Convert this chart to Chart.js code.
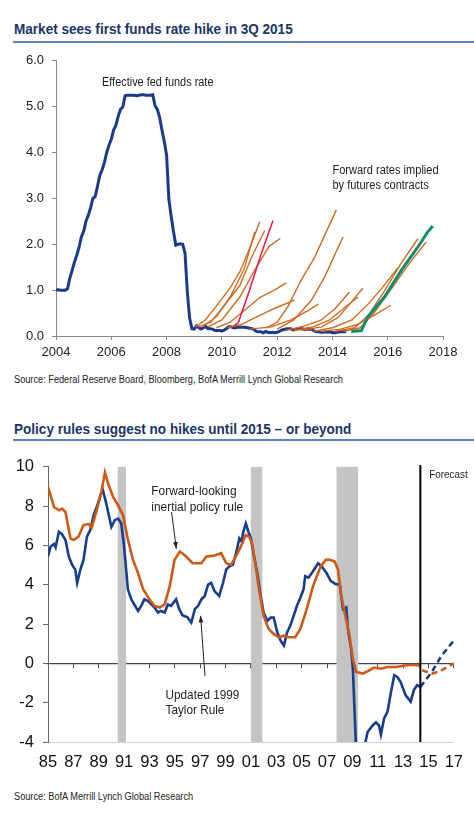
<!DOCTYPE html>
<html>
<head>
<meta charset="utf-8">
<script src="https://cdn.jsdelivr.net/npm/chart.js@4.4.1/dist/chart.umd.min.js"></script>
<style>
body{margin:0;background:#fff;width:474px;height:817px;position:relative;overflow:hidden;font-family:'Liberation Sans',Arial,sans-serif}
.t{position:absolute;left:14px;font-weight:bold;font-size:14px;line-height:16px;color:#1b3466;white-space:nowrap;transform:scaleX(0.968);transform-origin:0 0}
.rule{position:absolute;left:13px;width:461px;height:2px;background:#5f82bb}
.src{position:absolute;left:14px;font-size:10px;line-height:12px;color:#222;white-space:nowrap;transform:scaleX(0.92);transform-origin:0 0}
canvas{position:absolute;left:0}
</style>
</head>
<body>
<div class="t" style="top:21px">Market sees first funds rate hike in 3Q 2015</div>
<div class="rule" style="top:41px"></div>
<canvas id="c1" width="474" height="325" style="top:45px"></canvas>
<div class="src" style="top:374px">Source: Federal Reserve Board, Bloomberg, BofA Merrill Lynch Global Research</div>
<div class="t" style="top:421px">Policy rules suggest no hikes until 2015 – or beyond</div>
<div class="rule" style="top:439px"></div>
<canvas id="c2" width="474" height="335" style="top:448px"></canvas>
<div class="src" style="top:791px">Source: BofA Merrill Lynch Global Research</div>
<script>
const FONT = "'Liberation Sans',Arial,sans-serif";

// ---- chart 1: effective fed funds rate, monthly from Jan 2004
const fedStart = 2004;
const fedFunds = [
  1.00,1.01,1.00,1.00,1.00,1.03,1.26,1.43,1.61,1.76,1.93,2.16,
  2.28,2.50,2.63,2.79,3.00,3.04,3.26,3.50,3.62,3.78,4.00,4.16,
  4.29,4.49,4.59,4.79,4.94,4.99,5.24,5.25,5.25,5.25,5.25,5.24,
  5.25,5.26,5.26,5.25,5.25,5.25,5.26,5.02,4.94,4.76,4.49,4.24,
  3.94,2.98,2.61,2.28,1.98,2.00,2.01,2.00,1.81,0.97,0.39,0.16,
  0.15,0.22,0.18,0.15,0.18,0.21,0.16,0.16,0.15,0.12,0.12,0.12,
  0.11,0.13,0.16,0.20,0.20,0.18,0.18,0.19,0.19,0.19,0.19,0.18,
  0.17,0.16,0.14,0.10,0.09,0.09,0.07,0.10,0.08,0.07,0.08,0.07,
  0.08,0.10,0.13,0.14,0.16,0.16,0.16,0.13,0.14,0.16,0.16,0.16,
  0.14,0.15,0.14,0.15,0.11,0.09,0.09,0.08,0.08,0.09,0.08,0.09,
  0.07,0.07,0.08,0.09,0.09,0.10,0.09
];

// forward curves implied by futures, [year, rate]
const fwdCurves = [
  [[2009.05,0.2],[2009.4,0.35],[2009.8,0.65],[2010.3,1.05],[2010.65,1.4],[2011.0,1.9],[2011.37,2.49]],
  [[2009.15,0.2],[2009.6,0.3],[2010.0,0.6],[2010.65,1.1],[2011.1,1.75],[2011.55,2.3]],
  [[2009.3,0.2],[2009.8,0.42],[2010.3,0.85],[2010.8,1.45],[2011.19,2.27]],
  [[2009.5,0.2],[2010.0,0.35],[2010.65,0.85],[2011.2,1.45],[2011.7,1.95],[2012.12,2.13]],
  [[2009.8,0.18],[2010.3,0.3],[2010.8,0.55],[2011.4,0.85],[2011.9,1.0],[2012.33,1.16]],
  [[2010.2,0.18],[2010.7,0.25],[2011.2,0.4],[2011.9,0.6],[2012.63,0.78]],
  [[2011.0,0.15],[2011.8,0.2],[2012.5,0.35],[2013.1,0.55],[2013.5,0.7]],
  [[2011.6,0.17],[2012.0,0.3],[2012.39,0.64],[2012.87,1.22],[2013.36,1.72],[2014.14,2.75]],
  [[2012.0,0.15],[2012.6,0.35],[2013.24,0.78],[2013.72,1.29],[2014.38,2.16]],
  [[2012.3,0.12],[2013.0,0.22],[2013.6,0.35],[2014.1,0.6],[2014.62,0.96]],
  [[2012.6,0.12],[2013.3,0.2],[2013.9,0.35],[2014.4,0.6],[2014.93,0.85]],
  [[2012.9,0.12],[2013.6,0.2],[2014.2,0.4],[2014.7,0.75],[2015.1,1.04]],
  [[2013.3,0.1],[2014.0,0.18],[2014.7,0.35],[2015.3,0.7],[2015.8,1.05],[2016.37,1.49]],
  [[2013.6,0.1],[2014.3,0.15],[2014.9,0.25],[2015.5,0.45],[2016.12,0.67]],
  [[2014.1,0.1],[2014.8,0.18],[2015.3,0.45],[2015.9,1.0],[2016.5,1.6],[2017.09,2.12]],
  [[2014.4,0.1],[2015.0,0.18],[2015.5,0.5],[2016.1,1.0],[2016.8,1.6],[2017.39,2.05]]
];
const redCurve = [[2010.4,0.2],[2010.6,0.3],[2011.0,1.0],[2011.4,1.75],[2011.85,2.52]];
const greenCurve = [[2014.68,0.1],[2015.05,0.12],[2015.28,0.42],[2015.88,0.85],[2016.49,1.43],[2017.09,1.94],[2017.45,2.27],[2017.63,2.40]];
const years1 = [2004,2006,2008,2010,2012,2014,2016,2018];
const yTicks1 = [0,1,2,3,4,5,6];

// ---- chart 2: policy rules, [year, %]
const taylor = [
  [1985.0,5.44],[1985.2,5.94],[1985.47,6.08],[1985.6,5.91],[1985.86,6.7],[1986.1,6.58],[1986.38,6.28],[1986.64,5.44],
  [1986.9,5.02],[1987.15,4.77],[1987.3,4.1],[1987.55,4.77],[1987.8,5.27],[1988.07,6.45],[1988.33,6.78],[1988.6,7.54],
  [1988.84,7.96],[1989.1,8.46],[1989.3,8.88],[1989.6,8.12],[1990.0,6.95],[1990.27,7.29],[1990.53,7.37],[1990.78,7.12],
  [1991.0,5.94],[1991.3,3.77],[1991.57,3.26],[1991.8,3.0],[1992.1,2.67],[1992.35,2.93],[1992.6,3.26],[1992.9,3.17],
  [1993.15,3.0],[1993.4,2.84],[1993.67,2.59],[1993.9,2.67],[1994.2,2.59],[1994.45,3.0],[1994.7,2.93],[1995.1,3.26],
  [1995.35,2.76],[1995.6,2.45],[1996.0,2.34],[1996.3,2.08],[1996.58,2.76],[1996.84,2.93],[1997.1,3.26],[1997.36,3.43],
  [1997.62,4.01],[1997.87,4.1],[1998.13,3.68],[1998.5,3.43],[1998.8,4.1],[1999.05,4.77],[1999.3,4.94],[1999.57,5.02],
  [1999.83,5.61],[2000.09,6.36],[2000.27,6.2],[2000.4,6.7],[2000.6,7.12],[2000.8,6.7],[2001.0,6.36],[2001.25,5.44],
  [2001.5,4.6],[2001.77,3.43],[2002.0,2.59],[2002.3,2.17],[2002.56,2.33],[2002.8,2.33],[2003.08,1.58],[2003.34,1.16],
  [2003.6,0.91],[2003.85,1.58],[2004.1,1.91],[2004.37,2.42],[2004.63,2.93],[2004.9,3.34],[2005.15,3.77],[2005.28,4.44],
  [2005.54,4.36],[2005.9,4.69],[2006.3,5.1],[2006.57,4.94],[2006.96,4.6],[2007.3,4.19],[2007.7,4.03],[2008.0,4.03],
  [2008.26,2.76],[2008.52,2.84],[2008.65,1.75],[2008.9,0.74],[2009.04,-0.27],[2009.3,-4.5],[2009.55,-5.6],[2009.8,-4.9],
  [2010.0,-4.1],[2010.2,-3.49],[2010.6,-3.16],[2010.86,-3.0],[2011.1,-3.16],[2011.25,-3.62],[2011.5,-2.8],[2011.77,-2.46],
  [2012.0,-1.62],[2012.3,-0.6],[2012.55,-0.69],[2012.8,-0.94],[2013.2,-1.62],[2013.6,-1.95],[2013.85,-1.36],[2014.1,-1.11],
  [2014.36,-1.2]
];
const taylorFcst = [[2014.36,-1.2],[2015.27,-0.43],[2016.05,0.41],[2017.0,1.16]];
const inertial = [
  [1985.0,9.0],[1985.47,7.96],[1985.86,7.79],[1986.12,7.88],[1986.38,7.7],[1986.77,6.36],[1987.03,6.28],[1987.4,6.45],
  [1987.8,7.04],[1988.2,7.1],[1988.45,6.9],[1988.84,7.79],[1989.23,8.8],[1989.49,9.72],[1989.75,9.13],[1990.14,8.46],
  [1990.53,8.04],[1990.92,7.54],[1991.31,6.28],[1991.7,5.27],[1992.1,4.6],[1992.5,3.77],[1993.0,3.26],[1993.4,2.93],
  [1993.8,2.84],[1994.2,3.0],[1994.6,3.93],[1994.98,5.27],[1995.4,5.69],[1995.9,5.44],[1996.4,5.1],[1996.7,5.1],
  [1997.1,5.1],[1997.49,5.44],[1998.0,5.47],[1998.66,5.61],[1999.05,5.1],[1999.44,5.02],[1999.82,5.44],[2000.2,5.94],
  [2000.6,6.53],[2000.86,6.45],[2001.1,6.11],[2001.38,4.94],[2001.64,3.77],[2002.0,2.42],[2002.4,1.75],[2002.8,1.5],
  [2003.2,1.33],[2003.6,1.41],[2004.0,1.33],[2004.5,1.33],[2004.9,1.75],[2005.4,2.76],[2005.9,3.93],[2006.5,4.94],
  [2006.9,5.27],[2007.2,5.27],[2007.6,5.19],[2007.87,4.77],[2008.13,3.43],[2008.39,2.59],[2008.78,1.41],[2009.04,0.24],
  [2009.3,-0.43],[2009.8,-0.52],[2010.2,-0.4],[2010.7,-0.21],[2011.25,-0.27],[2011.77,-0.18],[2012.42,-0.18],[2012.94,-0.13],
  [2013.6,-0.07],[2014.2,-0.1],[2014.36,-0.08]
];
const inertialFcst = [[2014.5,-0.35],[2015.27,-0.52],[2015.9,-0.4],[2017.0,0.0]];
const recStart = [1990.5, 2001.0, 2007.75];
const recEnd   = [1991.15, 2001.9, 2009.45];
const forecastFrom = 2014.36;
const years2 = [1985,1987,1989,1991,1993,1995,1997,1999,2001,2003,2005,2007,2009,2011,2013,2015,2017];
const yTicks2 = [-4,-2,0,2,4,6,8,10];

const pts = a => a.map(p => ({x:p[0], y:p[1]}));
function line(data, color, width, order, dash){
  return { data, borderColor:color, borderWidth:width, pointRadius:0, tension:0, fill:false, order, borderDash:dash||[] };
}
// narrow text: the source uses a condensed face, squeeze the installed one
function note(ctx, text, x, y, sx, align){
  ctx.save();
  ctx.translate(x, y); ctx.scale(sx, 1);
  ctx.textAlign = align || 'left';
  ctx.fillText(text, 0, 0);
  ctx.restore();
}
function arrow(ctx, x1, y1, x2, y2){
  ctx.beginPath(); ctx.moveTo(x1,y1); ctx.lineTo(x2,y2); ctx.stroke();
  const a = Math.atan2(y2-y1, x2-x1), h = 7;
  ctx.beginPath();
  ctx.moveTo(x2,y2);
  ctx.lineTo(x2 - h*Math.cos(a-0.35), y2 - h*Math.sin(a-0.35));
  ctx.lineTo(x2 - h*Math.cos(a+0.35), y2 - h*Math.sin(a+0.35));
  ctx.closePath(); ctx.fill();
}

// chart 1
const ds1 = [line(fedFunds.map((v,i)=>({x: fedStart + i/12, y: v})), '#1a3a8c', 3, 3)];
fwdCurves.forEach(c => ds1.push(line(pts(c), '#d2691f', 1.4, 2)));
ds1.push(line(pts(redCurve), '#e2184c', 1.5, 1));
ds1.push(line(pts(greenCurve), '#0d8f6c', 3, 0));

const notes1 = {
  id:'notes1',
  afterDatasetsDraw(chart){
    const {ctx, scales:{x,y}} = chart;
    ctx.save();
    ctx.fillStyle = '#222';
    ctx.font = '12px ' + FONT;
    ctx.textBaseline = 'middle';
    note(ctx, 'Effective fed funds rate', x.getPixelForValue(2007.68), y.getPixelForValue(5.52), 0.91, 'center');
    note(ctx, 'Forward rates implied', x.getPixelForValue(2014.0), y.getPixelForValue(3.61), 0.92);
    note(ctx, 'by futures contracts', x.getPixelForValue(2014.0), y.getPixelForValue(3.28), 0.92);
    ctx.restore();
  }
};

new Chart(document.getElementById('c1'), {
  type:'line',
  data:{ datasets: ds1 },
  options:{
    responsive:false, animation:false, events:[],
    layout:{ padding:{ top:15, left:0, right:31, bottom:4 } },
    plugins:{ legend:{display:false}, tooltip:{enabled:false} },
    scales:{
      x:{ type:'linear', min:2004, max:2018,
        afterBuildTicks: s => { s.ticks = years1.map(v => ({value:v})); },
        afterFit: s => { s.height = 30; },
        ticks:{ font:{size:13, family:FONT}, color:'#222', padding:5, maxRotation:0, autoSkip:false, callback: v => String(v) },
        grid:{ drawOnChartArea:false, tickLength:4, color:'#888' },
        border:{ color:'#888' } },
      y:{ min:0, max:6,
        afterBuildTicks: s => { s.ticks = yTicks1.map(v => ({value:v})); },
        afterFit: s => { s.width = 56; },
        ticks:{ font:{size:13, family:FONT}, color:'#222', padding:8, callback: v => v.toFixed(1) },
        grid:{ drawOnChartArea:false, tickLength:4, color:'#888' },
        border:{ color:'#888' } }
    }
  },
  plugins:[notes1]
});

// chart 2
const ds2 = [
  line(pts(taylor), '#173d8e', 2.6, 1),
  line(pts(inertial), '#cf5a17', 2.6, 0),
  line(pts(taylorFcst), '#173d8e', 2.6, 1, [6,4]),
  line(pts(inertialFcst), '#cf5a17', 2.6, 0, [6,4])
];

const notes2 = {
  id:'notes2',
  beforeDatasetsDraw(chart){
    const {ctx, chartArea, scales:{x}} = chart;
    ctx.save();
    ctx.fillStyle = '#c4c4c4';
    recStart.forEach((s,i) => {
      const a = x.getPixelForValue(s), b = x.getPixelForValue(recEnd[i]);
      ctx.fillRect(a, chartArea.top, b - a, chartArea.bottom - chartArea.top);
    });
    ctx.restore();
  },
  afterDatasetsDraw(chart){
    const {ctx, chartArea, scales:{x,y}} = chart;
    ctx.save();
    const fx = x.getPixelForValue(forecastFrom);
    ctx.strokeStyle = '#000'; ctx.lineWidth = 2;
    ctx.beginPath(); ctx.moveTo(fx, chartArea.top - 2); ctx.lineTo(fx, chartArea.bottom); ctx.stroke();
    ctx.fillStyle = '#222';
    ctx.textBaseline = 'middle';
    ctx.font = '11.5px ' + FONT;
    note(ctx, 'Forecast', x.getPixelForValue(2015.06), y.getPixelForValue(9.62), 0.86);
    ctx.font = '13.5px ' + FONT;
    note(ctx, 'Forward-looking', x.getPixelForValue(1993.15), y.getPixelForValue(8.77), 0.88);
    note(ctx, 'inertial policy rule', x.getPixelForValue(1993.15), y.getPixelForValue(7.96), 0.88);
    note(ctx, 'Updated 1999', x.getPixelForValue(1994.27), y.getPixelForValue(-1.61), 0.87);
    note(ctx, 'Taylor Rule', x.getPixelForValue(1994.27), y.getPixelForValue(-2.37), 0.87);
    ctx.strokeStyle = '#222'; ctx.lineWidth = 1;
    arrow(ctx, x.getPixelForValue(1994.74), y.getPixelForValue(7.71), x.getPixelForValue(1995.12), y.getPixelForValue(5.84));
    arrow(ctx, x.getPixelForValue(1997.38), y.getPixelForValue(-0.65), x.getPixelForValue(1997.03), y.getPixelForValue(2.42));
    ctx.restore();
  }
};

new Chart(document.getElementById('c2'), {
  type:'line',
  data:{ datasets: ds2 },
  options:{
    responsive:false, animation:false, events:[],
    layout:{ padding:{ top:16, left:0, right:15, bottom:5 } },
    plugins:{ legend:{display:false}, tooltip:{enabled:false} },
    scales:{
      x:{ type:'linear', min:1985, max:2017,
        afterBuildTicks: s => { s.ticks = years2.map(v => ({value:v})); },
        afterFit: s => { s.height = 36; },
        ticks:{ font:{size:16.5, family:FONT}, color:'#111', padding:11, maxRotation:0, autoSkip:false, callback: v => String(v).slice(2) },
        grid:{ display:false, drawTicks:false },
        border:{ color:'#d0d0d0' } },
      x0:{ type:'linear', axis:'x', position:{ y:0 }, min:1985, max:2017,
        afterBuildTicks: s => { s.ticks = years2.map(v => ({value:v})); },
        ticks:{ display:false },
        grid:{ drawOnChartArea:false, tickLength:4, color:'#444' },
        border:{ color:'#444', width:1.2 } },
      y:{ min:-4, max:10,
        afterBuildTicks: s => { s.ticks = yTicks2.map(v => ({value:v})); },
        afterFit: s => { s.width = 48; },
        ticks:{ font:{size:16.5, family:FONT}, color:'#111', padding:9 },
        grid:{ drawOnChartArea:false, tickLength:5, color:'#666' },
        border:{ color:'#666' } }
    }
  },
  plugins:[notes2]
});
</script>
</body>
</html>
